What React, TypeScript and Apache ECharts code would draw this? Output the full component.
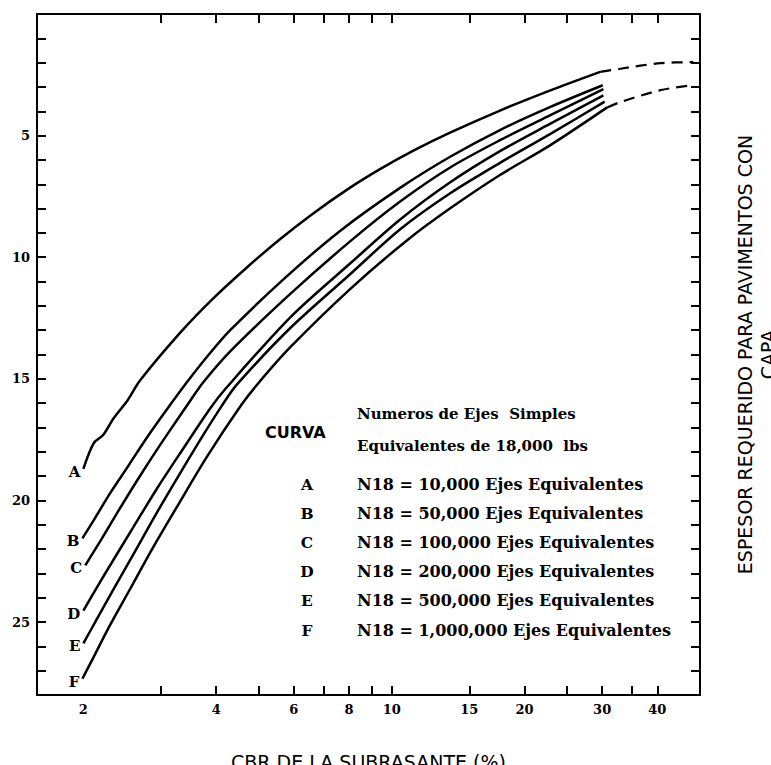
import { useEffect, useRef } from "react";
import * as echarts from "echarts";

// ---- axes ----
const X_MIN = 1.57;
const X_MAX = 50;
const Y_MIN = 0;
const Y_MAX = 28;
const xTickValues = [3, 4, 5, 6, 7, 8, 9, 10, 15, 20, 25, 30, 35, 40];
const xLabelValues = [2, 4, 6, 8, 10, 15, 20, 30, 40];
const yLabelValues = [5, 10, 15, 20, 25];

// ---- curves (CBR %, espesor) ----
const cbrA = [2.0, 2.11, 2.22, 2.34, 2.52, 2.69, 3.32, 3.94, 4.71, 5.59, 6.65, 7.94, 9.43, 11.2, 13.6, 17.6, 22.9, 29.7];
const espA = [18.7, 17.65, 17.3, 16.63, 15.88, 15.06, 13.09, 11.69, 10.4, 9.25, 8.19, 7.21, 6.37, 5.62, 4.87, 3.97, 3.14, 2.38];

const cbrB = [1.99, 2.11, 2.3, 2.52, 2.79, 3.1, 3.44, 3.88, 4.31, 5.74, 7.65, 10.47, 13.6, 17.6, 22.9, 30.1];
const espB = [21.56, 20.82, 19.7, 18.62, 17.4, 16.23, 15.12, 13.93, 12.99, 10.84, 8.91, 7.14, 5.86, 4.77, 3.82, 2.93];

const cbrC = [2.02, 2.19, 2.39, 2.65, 2.94, 3.27, 3.5, 3.74, 4.31, 5.89, 8.06, 10.47, 13.6, 17.6, 22.9, 30.2];
const espC = [22.67, 21.64, 20.49, 19.17, 17.9, 16.66, 15.88, 15.14, 13.86, 11.51, 9.34, 7.7, 6.3, 5.19, 4.16, 3.09];

const cbrD = [2.0, 2.15, 2.34, 2.6, 2.94, 3.32, 3.88, 4.2, 5.89, 8.06, 10.47, 13.6, 17.6, 22.9, 30.2];
const espD = [24.53, 23.55, 22.44, 21.08, 19.5, 18.04, 16.21, 15.41, 12.47, 10.25, 8.44, 6.91, 5.64, 4.51, 3.35];

const cbrE = [2.0, 2.15, 2.34, 2.6, 2.94, 3.37, 3.78, 4.13, 4.45, 5.89, 8.06, 10.47, 13.6, 17.6, 22.9, 30.4];
const espE = [25.88, 24.85, 23.66, 22.2, 20.48, 18.66, 17.17, 16.08, 15.25, 12.91, 10.69, 8.84, 7.36, 6.12, 4.93, 3.6];

const cbrF = [1.99, 2.11, 2.3, 2.56, 2.88, 3.27, 3.82, 4.56, 4.99, 5.89, 8.06, 10.86, 13.6, 17.6, 22.9, 30.8];
const espF = [27.33, 26.44, 25.12, 23.6, 21.92, 20.22, 18.18, 16.08, 15.17, 13.7, 11.3, 9.29, 7.98, 6.62, 5.39, 3.84];

// dashed extensions
const cbrDashA = [29.7, 33.0, 40.7, 48.3];
const espDashA = [2.38, 2.25, 2.02, 1.98];
const cbrDashF = [30.8, 33.0, 40.7, 48.3];
const espDashF = [3.84, 3.62, 3.13, 2.92];

// ---- legend text ----
const legendLetters = ["A", "B", "C", "D", "E", "F"];
const legendTexts = [
  "N18 = 10,000 Ejes Equivalentes",
  "N18 = 50,000 Ejes Equivalentes",
  "N18 = 100,000 Ejes Equivalentes",
  "N18 = 200,000 Ejes Equivalentes",
  "N18 = 500,000 Ejes Equivalentes",
  "N18 = 1,000,000 Ejes Equivalentes",
];
const legendHeader1 = "Numeros de Ejes  Simples";
const legendHeader2 = "Equivalentes de 18,000  lbs";
const legendTitle = "CURVA";
const xTitle = "CBR DE LA SUBRASANTE (%)";
const yTitle = "ESPESOR REQUERIDO PARA PAVIMENTOS CON\nCAPA";

const SERIF = '"DejaVu Serif", serif';
const SANS = '"DejaVu Sans", sans-serif';

function curveSeries(name: string, xs: number[], ys: number[]) {
  return {
    type: "line",
    name,
    xAxisIndex: 0,
    yAxisIndex: 0,
    smooth: 0.3,
    symbol: "circle",
    symbolSize: 0.01,
    showSymbol: true,
    silent: true,
    itemStyle: { color: "#000" },
    lineStyle: { color: "#000", width: 2.5 },
    label: { show: false },
    data: xs.map((x, i) =>
      i === 0
        ? {
            value: [x, ys[i]],
            label: {
              show: true,
              position: "left",
              distance: 3,
              offset: [0, 3],
              formatter: name,
              color: "#000",
              fontFamily: SERIF,
              fontWeight: "bold",
              fontSize: 15,
            },
          }
        : [x, ys[i]]
    ),
  };
}

function dashSeries(xs: number[], ys: number[]) {
  return {
    type: "line",
    xAxisIndex: 0,
    yAxisIndex: 0,
    smooth: 0.3,
    symbol: "none",
    silent: true,
    lineStyle: { color: "#000", width: 2.2, type: [11, 7] },
    data: xs.map((x, i) => [x, ys[i]]),
  };
}

export default function App() {
  const ref = useRef<HTMLDivElement>(null);

  useEffect(() => {
    document.body.style.margin = "0";
    if (!ref.current) return;
    const chart = echarts.init(ref.current, null, { renderer: "svg" });

    const axisLine = { show: true, onZero: false, lineStyle: { color: "#000", width: 2 } };
    const tickStyle = { color: "#000", width: 2 };
    const tickLabel = { color: "#000", fontFamily: SERIF, fontWeight: "bold", fontSize: 13 };

    const graphics: any[] = [
      {
        type: "text",
        x: 265,
        y: 432,
        style: { text: legendTitle, fill: "#000", fontFamily: SANS, fontWeight: "bold", fontSize: 16, align: "left", verticalAlign: "middle" },
      },
      {
        type: "text",
        x: 357,
        y: 414,
        style: { text: legendHeader1, fill: "#000", fontFamily: SERIF, fontWeight: "bold", fontSize: 15, align: "left", verticalAlign: "middle" },
      },
      {
        type: "text",
        x: 357,
        y: 446,
        style: { text: legendHeader2, fill: "#000", fontFamily: SERIF, fontWeight: "bold", fontSize: 15, align: "left", verticalAlign: "middle" },
      },
      {
        type: "text",
        x: 733,
        y: 354.5,
        rotation: Math.PI / 2,
        style: { text: yTitle, fill: "#000", fontFamily: SANS, fontSize: 19, align: "center", verticalAlign: "top", lineHeight: 23 },
      },
    ];
    legendLetters.forEach((l, i) => {
      const y = 484 + i * 29.2;
      graphics.push({
        type: "text",
        x: 307,
        y,
        style: { text: l, fill: "#000", fontFamily: SERIF, fontWeight: "bold", fontSize: 15.5, align: "center", verticalAlign: "middle" },
      });
      graphics.push({
        type: "text",
        x: 357,
        y,
        style: { text: legendTexts[i], fill: "#000", fontFamily: SERIF, fontWeight: "bold", fontSize: 16, align: "left", verticalAlign: "middle" },
      });
    });

    chart.setOption({
      animation: false,
      backgroundColor: "#fff",
      grid: { left: 37, right: 71, top: 14, bottom: 70, containLabel: false, outerBoundsMode: "none" },
      xAxis: [
        {
          type: "log",
          position: "bottom",
          min: X_MIN,
          max: X_MAX,
          axisLine,
          axisTick: { show: true, inside: true, length: 9, customValues: xTickValues, lineStyle: tickStyle },
          axisLabel: { show: true, customValues: xLabelValues, margin: 8, ...tickLabel },
          splitLine: { show: false },
          minorTick: { show: false },
          name: xTitle,
          nameLocation: "middle",
          nameGap: 57,
          nameTextStyle: { color: "#000", fontFamily: SANS, fontSize: 19 },
        },
        {
          type: "log",
          position: "top",
          min: X_MIN,
          max: X_MAX,
          axisLine,
          axisTick: { show: true, inside: true, length: 9, customValues: xTickValues, lineStyle: tickStyle },
          axisLabel: { show: false },
          splitLine: { show: false },
        },
      ],
      yAxis: [
        {
          type: "value",
          position: "left",
          inverse: true,
          min: Y_MIN,
          max: Y_MAX,
          interval: 1,
          axisLine,
          axisTick: { show: true, inside: true, length: 9, lineStyle: tickStyle },
          axisLabel: {
            show: true,
            interval: 0,
            margin: 7,
            formatter: (v: number) => (yLabelValues.includes(v) ? String(v) : ""),
            ...tickLabel,
          },
          splitLine: { show: false },
        },
        {
          type: "value",
          position: "right",
          inverse: true,
          min: Y_MIN,
          max: Y_MAX,
          interval: 1,
          axisLine,
          axisTick: { show: true, inside: true, length: 9, lineStyle: tickStyle },
          axisLabel: { show: false },
          splitLine: { show: false },
        },
      ],
      series: [
        curveSeries("A", cbrA, espA),
        curveSeries("B", cbrB, espB),
        curveSeries("C", cbrC, espC),
        curveSeries("D", cbrD, espD),
        curveSeries("E", cbrE, espE),
        curveSeries("F", cbrF, espF),
        dashSeries(cbrDashA, espDashA),
        dashSeries(cbrDashF, espDashF),
      ],
      graphic: graphics,
    });

    return () => chart.dispose();
  }, []);

  return <div ref={ref} style={{ width: 771, height: 765, overflow: "hidden" }} />;
}
